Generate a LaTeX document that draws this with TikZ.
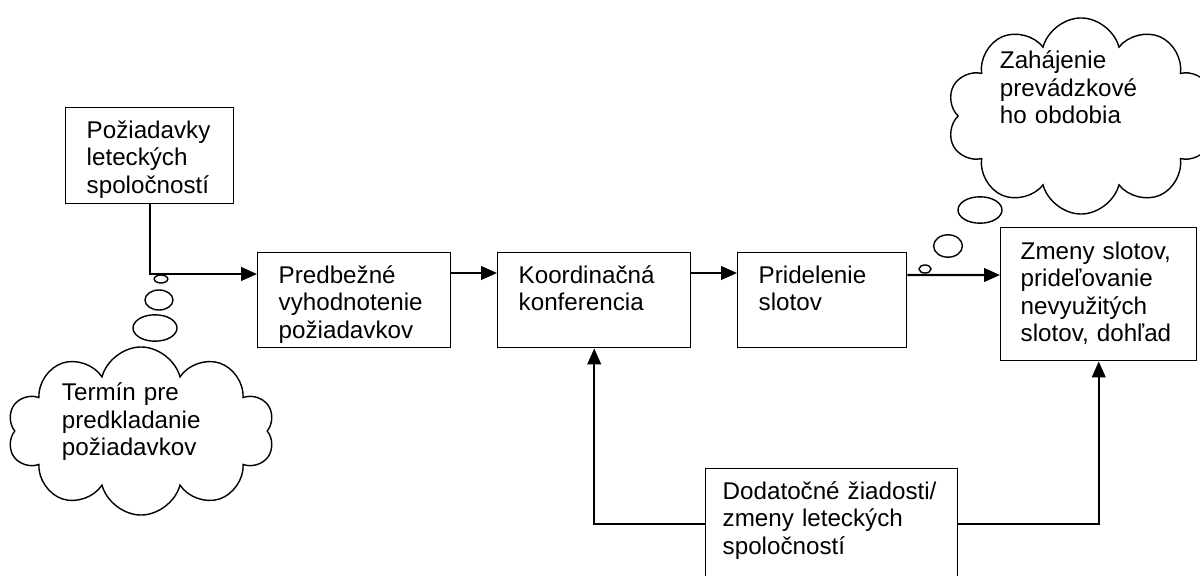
\documentclass[tikz,border=0pt]{standalone}
\usepackage{fontspec}
\setmainfont{Liberation Sans}
\usetikzlibrary{arrows.meta,shapes.symbols}

\tikzset{
  blok/.style={draw, line width=1pt, anchor=north west, inner xsep=0.525cm, inner ysep=0pt,
    align=left, text height=0.775cm, font=\fontsize{17.2}{19.4}\selectfont},
  oblak/.style={draw, cloud, cloud puffs=10, cloud ignores aspect, line width=1pt, inner sep=0pt,
    align=left, text height=0pt, font=\fontsize{17.2}{19.4}\selectfont},
  bublina/.style={line width=1pt},
  spoj/.style={line width=1.6pt, -{Triangle[length=0.4cm,width=0.34cm]}}
}

\begin{document}
\begin{tikzpicture}[x=0.025cm, y=-0.025cm]
\clip (0,0) rectangle (1200,576);

% boxes
\node[blok, text width=3.15cm, text depth=1.625cm] (poziadavky) at (65,107) {Požiadavky\\leteckých\\spoločností};
\node[blok, text width=3.775cm, text depth=1.6cm] (predbezne) at (257,252) {Predbežné\\vyhodnotenie\\požiadavkov};
\node[blok, text width=3.775cm, text depth=1.6cm] (koordinacna) at (497,252) {Koordinačná\\konferencia};
\node[blok, text width=3.175cm, text depth=1.6cm] (pridelenie) at (737,252) {Pridelenie\\slotov};
\node[blok, inner xsep=0.5cm, text width=3.9cm, text height=0.8cm, text depth=2.525cm] (zmeny) at (1000,227) {Zmeny slotov,\\prideľovanie\\nevyužitých\\slotov, dohľad};
\node[blok, inner xsep=0.425cm, text width=5.45cm, text depth=1.975cm] (dodatocne) at (705,468) {Dodatočné žiadosti/\\zmeny leteckých\\spoločností};

% clouds
\node[oblak, minimum width=6.675cm, minimum height=4.2cm, text width=3.95cm, text depth=1.5cm] (termin) at (141,431) {Termín pre\\predkladanie\\požiadavkov};
\node[oblak, minimum width=6.7cm, minimum height=4.9cm, text width=4.05cm, text depth=2.35cm] (zahajenie) at (1081,116) {Zahájenie\\prevádzkové\\ho obdobia};

\draw[bublina] (161,279) ellipse [x radius=0.17cm, y radius=0.1cm];
\draw[bublina] (159,300) ellipse [x radius=0.35cm, y radius=0.25cm];
\draw[bublina] (155,328) ellipse [x radius=0.55cm, y radius=0.33cm];
\draw[bublina] (925,269) ellipse [x radius=0.15cm, y radius=0.1cm];
\draw[bublina] (948,246) ellipse [x radius=0.36cm, y radius=0.28cm];
\draw[bublina] (980,210) ellipse [x radius=0.55cm, y radius=0.33cm];

% arrows
\draw[spoj] (poziadavky.south) |- ([yshift=-0.55cm]predbezne.north west);
\draw[spoj] ([yshift=-0.525cm]predbezne.north east) -- ([yshift=-0.525cm]koordinacna.north west);
\draw[spoj] ([yshift=-0.525cm]koordinacna.north east) -- ([yshift=-0.525cm]pridelenie.north west);
\draw[spoj] ([yshift=-0.575cm]pridelenie.north east) -- ([yshift=-1.2cm]zmeny.north west);
\draw[spoj] (dodatocne.west) -| (koordinacna.south);
\draw[spoj] (dodatocne.east) -| (zmeny.south);
\end{tikzpicture}
\end{document}
